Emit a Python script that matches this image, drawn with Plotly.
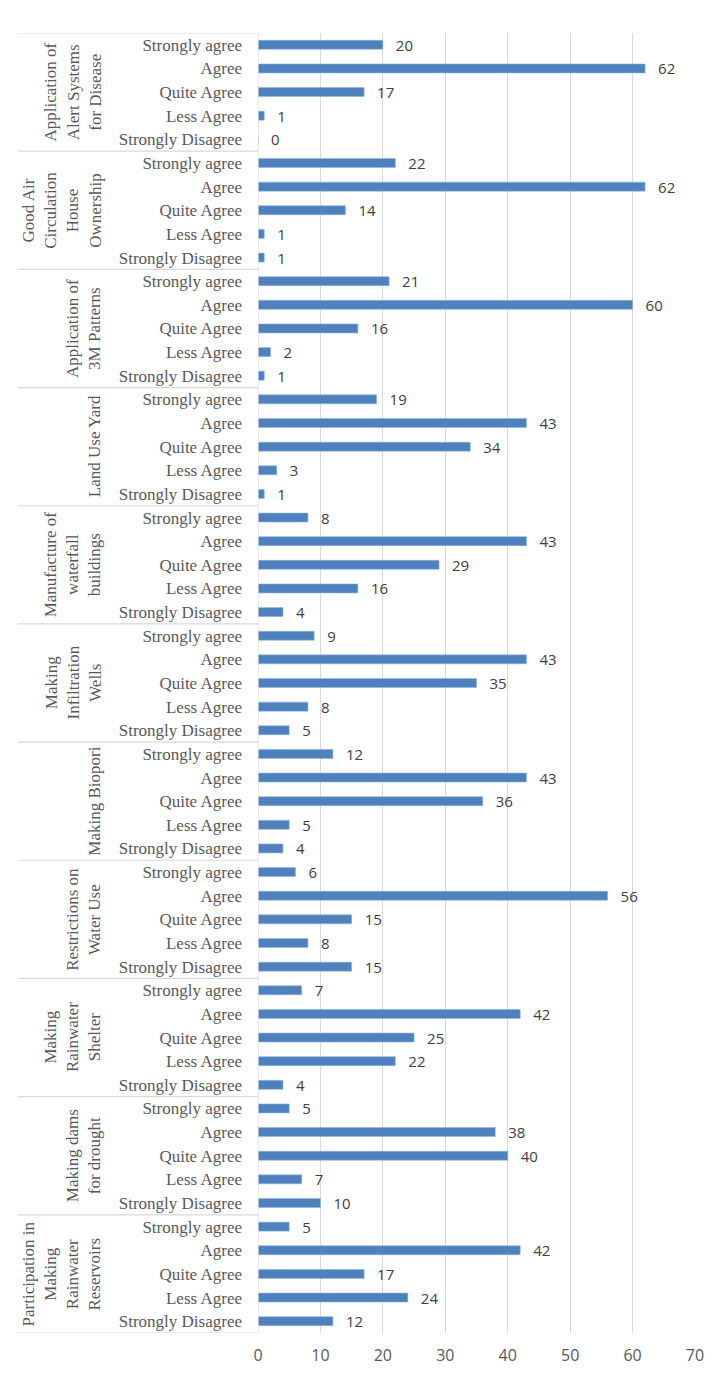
import plotly.graph_objects as go

groups = [
    "Application of<br>Alert Systems<br>for Disease",
    "Good Air<br>Circulation<br>House<br>Ownership",
    "Application of<br>3M Patterns",
    "Land Use Yard",
    "Manufacture of<br>waterfall<br>buildings",
    "Making<br>Infiltration<br>Wells",
    "Making Biopori",
    "Restrictions on<br>Water Use",
    "Making<br>Rainwater<br>Shelter",
    "Making dams<br>for drought",
    "Participation in<br>Making<br>Rainwater<br>Reservoirs",
]
levels = ["Strongly agree", "Agree", "Quite Agree", "Less Agree", "Strongly Disagree"]

strongly_agree = [20, 22, 21, 19, 8, 9, 12, 6, 7, 5, 5]
agree = [62, 62, 60, 43, 43, 43, 43, 56, 42, 38, 42]
quite_agree = [17, 14, 16, 34, 29, 35, 36, 15, 25, 40, 17]
less_agree = [1, 1, 2, 3, 16, 8, 5, 8, 22, 7, 24]
strongly_disagree = [0, 1, 1, 1, 4, 5, 4, 15, 4, 10, 12]

x_ticks = [0, 10, 20, 30, 40, 50, 60, 70]

series = [strongly_agree, agree, quite_agree, less_agree, strongly_disagree]
n_lv = len(levels)
n_rows = len(groups) * n_lv

xs, ys, labels = [], [], []
for g in range(len(groups)):
    for k in range(n_lv):
        pos = n_rows - 1 - (g * n_lv + k)
        xs.append(series[k][g])
        ys.append(pos)
        labels.append(levels[k])

# page has an 8px body margin; compensate so page-pixel targets line up
OFF = 8
PW, PH = 719, 1378            # page size
L, R, T, B = 258, 24, 33, 40  # plot area in page pixels
W, H = PW - OFF, PH - OFF
pw, ph = PW - L - R, PH - T - B

def px_x(p):
    return (p - L) / pw

def px_y(p):
    return (PH - B - p) / ph

SERIF = "Liberation Serif, Times New Roman, serif"
SANS = "Open Sans, Liberation Sans, sans-serif"

fig = go.Figure()
fig.add_trace(go.Bar(
    x=xs, y=ys, orientation="h", width=0.38,
    marker=dict(color="#4F81BD", line=dict(color="#8DB3E2", width=0.6)),
    text=[str(v) for v in xs],
    texttemplate="\u2002\u2009%{text}",
    textposition="outside", cliponaxis=False, constraintext="none",
    textfont=dict(family=SANS, size=15, color="#404040"),
    hoverinfo="x+y",
))

shapes = []
shapes.append(dict(type="rect", xref="paper", yref="paper",
                   x0=px_x(7), x1=px_x(760), y0=px_y(1420), y1=px_y(6),
                   line=dict(color="#D9D9D9", width=2), layer="below"))
annotations = []
for g in range(len(groups) + 1):
    yb = n_rows - 0.5 - g * n_lv
    shapes.append(dict(type="line", xref="paper", yref="y",
                       x0=px_x(18), x1=0, y0=yb, y1=yb,
                       line=dict(color="#D9D9D9", width=1.2)))
for g in range(len(groups)):
    yc = n_rows - 1 - g * n_lv - (n_lv - 1) / 2
    annotations.append(dict(xref="paper", yref="y", x=px_x(106), y=yc,
                            text=groups[g], textangle=-90, showarrow=False,
                            xanchor="right", yanchor="middle",
                            font=dict(family=SERIF, size=17, color="#595959")))
shapes.append(dict(type="line", xref="x", yref="paper", x0=0, x1=0, y0=0, y1=1,
                   line=dict(color="#D9D9D9", width=1.2)))

fig.update_layout(
    width=W, height=H,
    margin=dict(l=L - OFF, r=R, t=T - OFF, b=B, pad=0),
    paper_bgcolor="white", plot_bgcolor="white",
    showlegend=False,
    bargap=0.6,
    shapes=shapes, annotations=annotations,
    xaxis=dict(range=[0, 70], tickvals=x_ticks, ticktext=[str(t) for t in x_ticks],
               showgrid=True, gridcolor="#D9D9D9", gridwidth=1, zeroline=False,
               showline=False, ticks="", ticklen=0, ticklabelstandoff=11,
               tickfont=dict(family=SANS, size=16, color="#595959")),
    yaxis=dict(range=[-0.5, n_rows - 0.5], tickvals=ys, ticktext=labels,
               showgrid=False, zeroline=False, showline=False, ticks="",
               ticklabelstandoff=15,
               tickfont=dict(family=SERIF, size=17, color="#595959")),
)

fig.write_html("out.html")
